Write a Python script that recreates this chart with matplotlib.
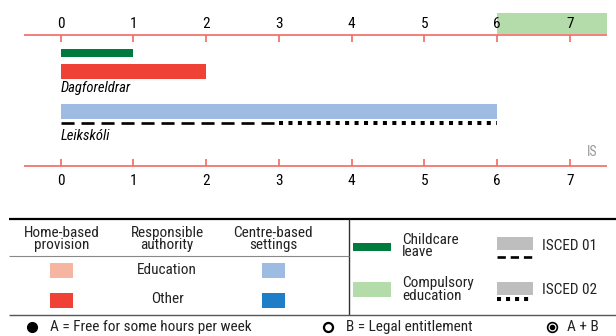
import matplotlib
matplotlib.use("Agg")
import matplotlib.pyplot as plt
from matplotlib import font_manager

# pick a narrow sans if there is one
font = "DejaVu Sans"
for name in ["Liberation Sans Narrow", "Roboto Condensed", "Liberation Sans"]:
    try:
        font_manager.findfont(name, fallback_to_default=False)
        font = name
        break
    except Exception:
        pass
plt.rcParams["font.family"] = [font, "DejaVu Sans"]
plt.rcParams["lines.scale_dashes"] = False

# data (age in years)
ages = [0, 1, 2, 3, 4, 5, 6, 7]
leave_years = 1
home_based_years = 2          # Dagforeldrar, other authority
centre_based_years = 6        # Leikskóli, education authority
isced01 = (0, 3)
isced02 = (3, 6)
compulsory_start = 6
country = "IS"

RED_AX = "#F26A62"
C_LEAVE = "#007A3D"
C_HOME_OTHER = "#EF4136"
C_HOME_EDU = "#F5B5A0"
C_CENTRE_EDU = "#9EBBE2"
C_CENTRE_OTHER = "#1F7EC8"
C_COMP = "#B4DBAA"
C_GREY = "#BEBEBE"

fig = plt.figure(figsize=(6.16, 3.36), dpi=100)

# chart axes: x in years, y in pixels from top
ax = fig.add_axes([0, 0, 1, 1])
px = 72.79
ax.set_xlim(-60.5 / px, (616 - 60.5) / px)
ax.set_ylim(336, 0)
ax.axis("off")
x_lo, x_hi = (24 - 60.5) / px, (607 - 60.5) / px

ax.barh(23.7, x_hi - compulsory_start, left=compulsory_start, height=21.5,
        color=C_COMP, zorder=1)
ax.hlines([34.5, 166], x_lo, x_hi, color=RED_AX, lw=1.2, zorder=2)
ax.vlines(ages, 34.5, 42, color=RED_AX, lw=1.2)
ax.vlines(ages, 159, 166, color=RED_AX, lw=1.2)
for a in ages:
    ax.text(a, 24, str(a), ha="center", va="center", fontsize=11, zorder=3)
    ax.text(a, 181, str(a), ha="center", va="center", fontsize=11)

ax.barh(53, leave_years, left=0, height=8, color=C_LEAVE)
ax.barh(71.5, home_based_years, left=0, height=15, color=C_HOME_OTHER)
ax.text(0, 88, "Dagforeldrar", style="italic", fontsize=10.5, va="center", ha="left")
ax.barh(111.5, centre_based_years, left=0, height=15, color=C_CENTRE_EDU)
ax.hlines(123, *isced01, color="black", lw=1.9, linestyles=[(0, (9.4, 5.0))])
ax.hlines(123, *isced02, color="black", lw=2.9, linestyles=[(0, (2.9, 3.9))])
ax.text(0, 136, "Leikskóli", style="italic", fontsize=10.5, va="center", ha="left")
ax.text(7.30, 152, country, color="#999999", fontsize=10, va="center", ha="center")

# legend, in pixel coordinates
lg = fig.add_axes([0, 0, 1, 1])
lg.set_xlim(0, 616)
lg.set_ylim(336, 0)
lg.axis("off")
lg.hlines(219, 9, 616, color="black", lw=1.6)
lg.vlines(349, 219, 315, color="#333333", lw=1.0)
lg.hlines(256, 9, 349, color="#888888", lw=0.8)
lg.hlines(315, 9, 616, color="#555555", lw=1.0)

tc = "#222222"
fs = 11
lg.text(62, 239, "Home-based\nprovision", ha="center", va="center", fontsize=fs,
        linespacing=0.85, color=tc)
lg.text(167, 239, "Responsible\nauthority", ha="center", va="center", fontsize=fs,
        linespacing=0.85, color=tc)
lg.text(273, 239, "Centre-based\nsettings", ha="center", va="center", fontsize=fs,
        linespacing=0.85, color=tc)
lg.text(167, 270, "Education", ha="center", va="center", fontsize=fs, color=tc)
lg.text(167, 299, "Other", ha="center", va="center", fontsize=fs, color=tc)
lg.barh([270.5, 300.5], 23, left=50, height=15, color=[C_HOME_EDU, C_HOME_OTHER])
lg.barh([270.5, 300.5], 23, left=262, height=15, color=[C_CENTRE_EDU, C_CENTRE_OTHER])

lg.barh(247, 38, left=353, height=8, color=C_LEAVE)
lg.text(402, 246, "Childcare\nleave", ha="left", va="center", fontsize=fs,
        linespacing=0.85, color=tc)
lg.barh(289.5, 38, left=353, height=15, color=C_COMP)
lg.text(402, 289.5, "Compulsory\neducation", ha="left", va="center", fontsize=fs,
        linespacing=0.85, color=tc)
lg.barh([243.5, 288.5], 36, left=497, height=13, color=C_GREY)
lg.hlines(257, 497, 533, color="black", lw=1.9, linestyles=[(0, (6.0, 3.5))])
lg.hlines(299, 497, 533, color="black", lw=2.9, linestyles=[(0, (2.9, 3.6))])
lg.text(542, 246, "ISCED 01", ha="left", va="center", fontsize=fs, color=tc)
lg.text(542, 290, "ISCED 02", ha="left", va="center", fontsize=fs, color=tc)

lg.plot(32, 327, "o", ms=7, color="black")
lg.text(50, 327, "A = Free for some hours per week", ha="left", va="center",
        fontsize=fs, color=tc)
lg.plot(328, 327, "o", ms=6.5, mfc="white", mec="black", mew=1.6)
lg.text(346, 327, "B = Legal entitlement", ha="left", va="center", fontsize=fs, color=tc)
lg.plot(552, 327, "o", ms=7, mfc="white", mec="black", mew=1.2)
lg.plot(552, 327, "o", ms=3, color="black")
lg.text(567, 327, "A + B", ha="left", va="center", fontsize=fs, color=tc)

fig.savefig("out.png", dpi=100)
